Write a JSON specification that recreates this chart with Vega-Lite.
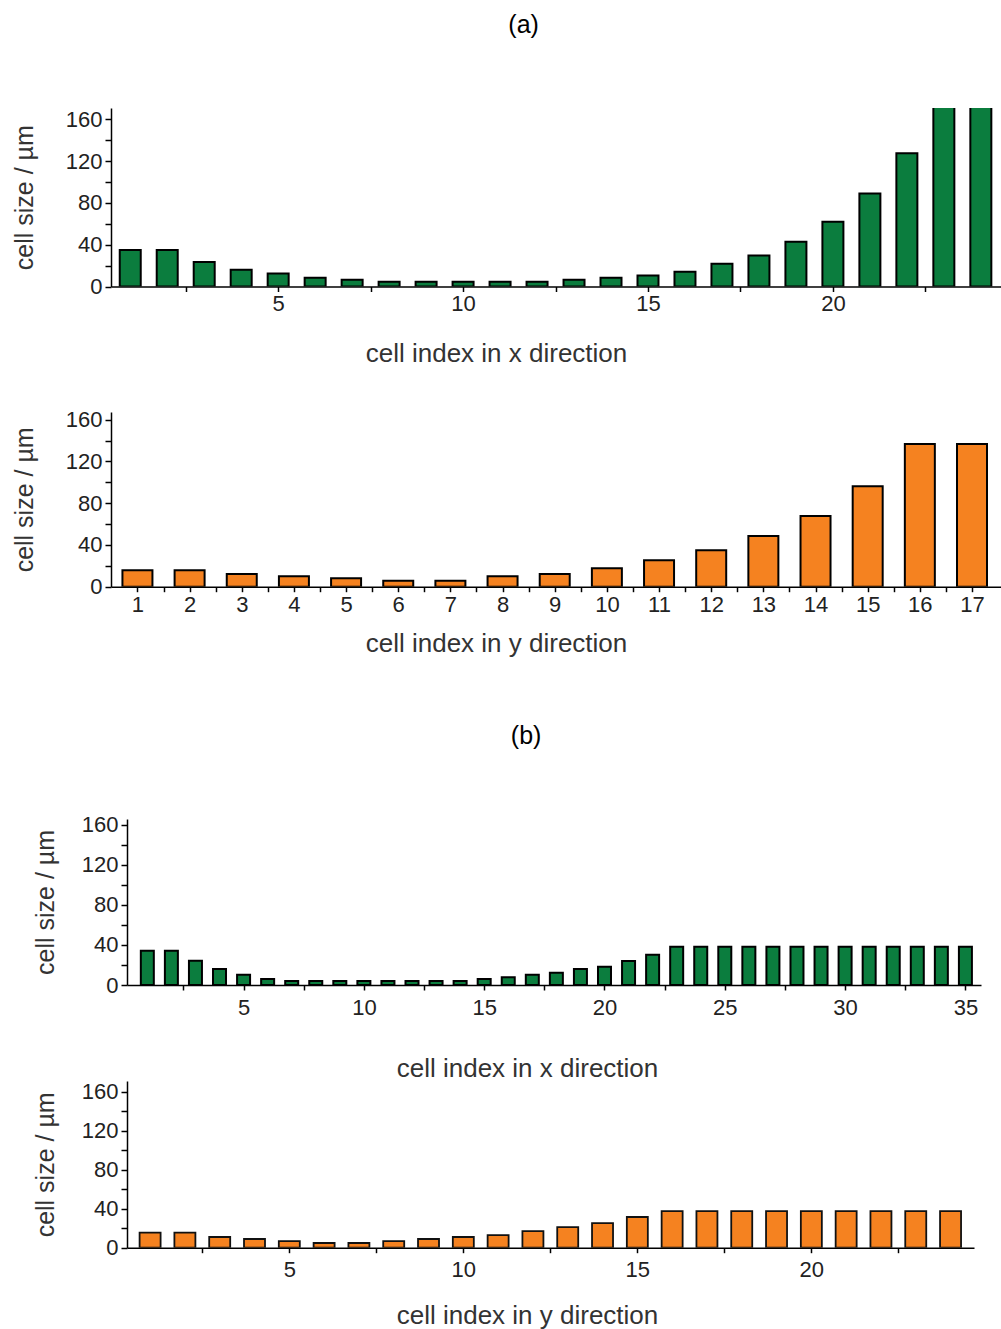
{
  "$schema": "https://vega.github.io/schema/vega-lite/v6.json",
  "padding": {"left": 12, "top": 13, "right": 0, "bottom": 0},
  "background": "white",
  "config": {
    "view": {"stroke": null},
    "font": "Liberation Sans",
    "axis": {"grid": false, "domainColor": "#000", "domainWidth": 1.5, "tickColor": "#000", "tickWidth": 1.5, "labelFont": "Liberation Sans", "labelFontSize": 22, "labelColor": "#222", "titleFont": "Liberation Sans", "titleFontWeight": "normal", "titleColor": "#333", "labelOverlap": false, "labelFlush": false},
    "axisX": {"tickSize": 5, "titleFontSize": 26},
    "axisY": {"tickSize": 6, "labelPadding": 3, "titleFontSize": 25},
    "title": {"font": "Liberation Sans", "fontSize": 25, "fontWeight": "normal", "color": "#000", "anchor": "middle"}
  },
  "spacing": 66,
  "vconcat": [
    {
      "title": {"text": "(a)", "offset": 70, "dx": 17, "anchor": "middle"},
      "spacing": 41,
      "vconcat": [
        {
          "width": 890, "height": 178.5,
          "data": {"values": [
            {"index": 1, "size": 35}, {"index": 2, "size": 35}, {"index": 3, "size": 23.5}, {"index": 4, "size": 16},
            {"index": 5, "size": 12.5}, {"index": 6, "size": 8.3}, {"index": 7, "size": 6.4}, {"index": 8, "size": 4.5},
            {"index": 9, "size": 4.5}, {"index": 10, "size": 4.5}, {"index": 11, "size": 4.5}, {"index": 12, "size": 4.5},
            {"index": 13, "size": 6.4}, {"index": 14, "size": 8.3}, {"index": 15, "size": 10.6}, {"index": 16, "size": 14.1},
            {"index": 17, "size": 21.8}, {"index": 18, "size": 29.8}, {"index": 19, "size": 42.9}, {"index": 20, "size": 62.1},
            {"index": 21, "size": 89}, {"index": 22, "size": 127.6}, {"index": 23, "size": 183}, {"index": 24, "size": 183}
          ]},
          "mark": {"type": "bar", "size": 21, "fill": "#0b7d3e", "stroke": "#000", "strokeWidth": 2, "clip": true},
          "encoding": {
            "x": {"field": "index", "type": "quantitative",
              "scale": {"domain": [0.615, 24.41], "nice": false, "zero": false},
              "axis": {"title": "cell index in x direction", "values": [2.5, 5, 7.5, 10, 12.5, 15, 17.5, 20, 22.5],
                "labelExpr": "datum.value % 5 === 0 ? '' + datum.value : ''", "labelPadding": 2, "titlePadding": 26, "titleX": 385}},
            "y": {"field": "size", "type": "quantitative",
              "scale": {"domain": [0, 171], "nice": false},
              "axis": {"title": "cell size / µm", "values": [0, 20, 40, 60, 80, 100, 120, 140, 160],
                "labelExpr": "datum.value % 40 === 0 ? '' + datum.value : ''", "titlePadding": 28}}
          }
        },
        {
          "width": 890, "height": 174.7,
          "data": {"values": [
            {"index": 1, "size": 15.7}, {"index": 2, "size": 15.7}, {"index": 3, "size": 12.2}, {"index": 4, "size": 10},
            {"index": 5, "size": 8}, {"index": 6, "size": 5.8}, {"index": 7, "size": 5.8}, {"index": 8, "size": 10},
            {"index": 9, "size": 12.2}, {"index": 10, "size": 17.6}, {"index": 11, "size": 25.3}, {"index": 12, "size": 34.9},
            {"index": 13, "size": 48.6}, {"index": 14, "size": 67.7}, {"index": 15, "size": 96.2}, {"index": 16, "size": 136.7},
            {"index": 17, "size": 136.7}
          ]},
          "mark": {"type": "bar", "size": 30, "fill": "#f58220", "stroke": "#000", "strokeWidth": 2, "clip": true},
          "encoding": {
            "x": {"field": "index", "type": "quantitative",
              "scale": {"domain": [0.589, 17.46], "nice": false, "zero": false},
              "axis": {"title": "cell index in y direction",
                "values": [1, 1.5, 2, 2.5, 3, 3.5, 4, 4.5, 5, 5.5, 6, 6.5, 7, 7.5, 8, 8.5, 9, 9.5, 10, 10.5, 11, 11.5, 12, 12.5, 13, 13.5, 14, 14.5, 15, 15.5, 16, 16.5, 17],
                "labelExpr": "datum.value % 1 === 0 ? '' + datum.value : ''", "labelPadding": 3, "titlePadding": 15, "titleX": 385}},
            "y": {"field": "size", "type": "quantitative",
              "scale": {"domain": [0, 167.3], "nice": false},
              "axis": {"title": "cell size / µm", "values": [0, 20, 40, 60, 80, 100, 120, 140, 160],
                "labelExpr": "datum.value % 40 === 0 ? '' + datum.value : ''", "titlePadding": 28}}
          }
        }
      ]
    },
    {
      "spacing": -79,
      "hconcat": [
        {
          "width": 1, "height": 1,
          "data": {"values": []},
          "mark": {"type": "point", "opacity": 0},
          "encoding": {}
        },
        {
          "title": {"text": "(b)", "offset": 65, "dx": 19, "anchor": "middle"},
          "spacing": -4,
          "vconcat": [
            {
              "width": 854, "height": 166,
              "data": {"values": [
                {"index": 1, "size": 34.2}, {"index": 2, "size": 34.2}, {"index": 3, "size": 24.3}, {"index": 4, "size": 16},
                {"index": 5, "size": 10.3}, {"index": 6, "size": 6}, {"index": 7, "size": 4}, {"index": 8, "size": 4},
                {"index": 9, "size": 4}, {"index": 10, "size": 4}, {"index": 11, "size": 4}, {"index": 12, "size": 4},
                {"index": 13, "size": 4}, {"index": 14, "size": 4}, {"index": 15, "size": 6}, {"index": 16, "size": 7.7},
                {"index": 17, "size": 10.3}, {"index": 18, "size": 12.3}, {"index": 19, "size": 16}, {"index": 20, "size": 18.3},
                {"index": 21, "size": 24}, {"index": 22, "size": 30.3}, {"index": 23, "size": 38.3}, {"index": 24, "size": 38.3},
                {"index": 25, "size": 38.3}, {"index": 26, "size": 38.3}, {"index": 27, "size": 38.3}, {"index": 28, "size": 38.3},
                {"index": 29, "size": 38.3}, {"index": 30, "size": 38.3}, {"index": 31, "size": 38.3}, {"index": 32, "size": 38.3},
                {"index": 33, "size": 38.3}, {"index": 34, "size": 38.3}, {"index": 35, "size": 38.3}
              ]},
              "mark": {"type": "bar", "size": 13, "fill": "#0b7d3e", "stroke": "#000", "strokeWidth": 2, "clip": true},
              "encoding": {
                "x": {"field": "index", "type": "quantitative",
                  "scale": {"domain": [0.363, 35.44], "nice": false, "zero": false},
                  "axis": {"title": "cell index in x direction", "values": [2.5, 5, 7.5, 10, 12.5, 15, 17.5, 20, 22.5, 25, 27.5, 30, 32.5, 35],
                    "labelExpr": "datum.value % 5 === 0 ? '' + datum.value : ''", "labelPadding": 7, "titlePadding": 37, "titleX": 400}},
                "y": {"field": "size", "type": "quantitative",
                  "scale": {"domain": [0, 165.7], "nice": false},
                  "axis": {"title": "cell size / µm", "values": [0, 20, 40, 60, 80, 100, 120, 140, 160],
                    "labelExpr": "datum.value % 40 === 0 ? '' + datum.value : ''", "titlePadding": 23}}
              }
            },
            {
              "width": 847, "height": 166.7,
              "data": {"values": [
                {"index": 1, "size": 15.4}, {"index": 2, "size": 15.4}, {"index": 3, "size": 11}, {"index": 4, "size": 8.9},
                {"index": 5, "size": 6.8}, {"index": 6, "size": 4.8}, {"index": 7, "size": 4.8}, {"index": 8, "size": 6.8},
                {"index": 9, "size": 8.9}, {"index": 10, "size": 11}, {"index": 11, "size": 13}, {"index": 12, "size": 17.1},
                {"index": 13, "size": 21.2}, {"index": 14, "size": 25.3}, {"index": 15, "size": 31.5}, {"index": 16, "size": 37.6},
                {"index": 17, "size": 37.6}, {"index": 18, "size": 37.6}, {"index": 19, "size": 37.6}, {"index": 20, "size": 37.6},
                {"index": 21, "size": 37.6}, {"index": 22, "size": 37.6}, {"index": 23, "size": 37.6}, {"index": 24, "size": 37.6}
              ]},
              "mark": {"type": "bar", "size": 21, "fill": "#f58220", "stroke": "#111", "strokeWidth": 1.8, "clip": true},
              "encoding": {
                "x": {"field": "index", "type": "quantitative",
                  "scale": {"domain": [0.48, 24.53], "nice": false, "zero": false},
                  "axis": {"title": "cell index in y direction", "values": [2.5, 5, 7.5, 10, 12.5, 15, 17.5, 20, 22.5],
                    "labelExpr": "datum.value % 5 === 0 ? '' + datum.value : ''", "labelPadding": 7, "titlePadding": 22, "titleX": 400}},
                "y": {"field": "size", "type": "quantitative",
                  "scale": {"domain": [0, 171], "nice": false},
                  "axis": {"title": "cell size / µm", "values": [0, 20, 40, 60, 80, 100, 120, 140, 160],
                    "labelExpr": "datum.value % 40 === 0 ? '' + datum.value : ''", "titlePadding": 23}}
              }
            }
          ]
        }
      ]
    }
  ]
}
